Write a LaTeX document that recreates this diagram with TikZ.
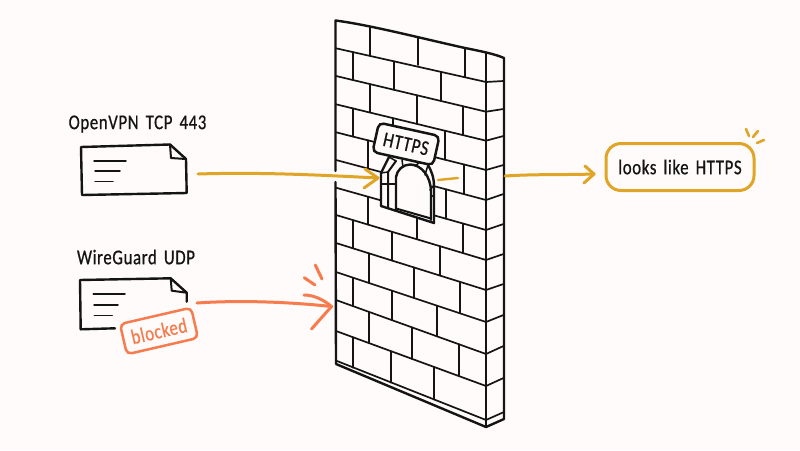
\documentclass[tikz,border=0pt]{standalone}
\usepackage{fontspec}
\setmainfont[FakeStretch=0.8,FakeBold=0.6,LetterSpace=3,WordSpace=1.6]{Carlito}
\definecolor{bgc}{HTML}{FEFBFA}
\definecolor{inkc}{HTML}{141414}
\definecolor{goldc}{HTML}{E0A526}
\definecolor{orangec}{HTML}{F77B4C}
\tikzset{
  outline/.style={draw=inkc,line width=2.4pt,line cap=round,line join=round},
  mortar/.style={draw=inkc,line width=1.7pt,line cap=round},
  thinline/.style={draw=inkc,line width=1.5pt,line cap=round,line join=round},
  goldline/.style={draw=goldc,line width=3pt,line cap=round,line join=round},
  orangeline/.style={draw=orangec,line width=3pt,line cap=round,line join=round},
  label/.style={text=inkc,font=\fontsize{21}{24}\selectfont,inner sep=0pt},
}
\newcommand{\brickv}[5]{\draw[mortar] (#1,{#2+(#3-#2)*(#1-336)/150}) -- (#1,{#4+(#5-#4)*(#1-336)/150});}
\begin{document}
\begin{tikzpicture}[x=1pt,y=-1pt]
\fill[bgc] (0,0) rectangle (800,450);
\useasboundingbox (0,0) rectangle (800,450);
% wall mortar: front lines and their returns on the side
\foreach \a/\b/\c in {48.3/82/81,76/111.7/109,104.3/140.7/136,132.3/170/165,160/200/194,187.7/230/224,215/260/254,243/290/284,272/322/315,300/354/346,331/386/378}{
  \draw[mortar] (336,\a) -- (486,\b) -- (503.5,\c);
}
\draw[mortar] (337,361) -- (486,420) -- (504,412);
% bricks
\draw[mortar] (370,26.7)--(370,55);
\draw[mortar] (418,38)--(418,65);
\draw[mortar] (465,48)--(465,76.7);
\foreach \x/\a/\b/\c/\d in {
 353/48.3/82/76/111.7, 394/48.3/82/76/111.7, 441/48.3/82/76/111.7,
 370/76/111.7/104.3/140.7, 417/76/111.7/104.3/140.7, 463/76/111.7/104.3/140.7,
 353/104.3/140.7/132.3/170, 393/104.3/140.7/132.3/170, 445/104.3/140.7/132.3/170,
 368/132.3/170/160/200, 464/132.3/170/160/200,
 446/160/200/187.7/230,
 368/187.7/230/215/260, 417/187.7/230/215/260, 463/187.7/230/215/260,
 353/215/260/243/290, 392/215/260/243/290, 440/215/260/243/290,
 369/243/290/272/322, 414/243/290/272/322, 460/243/290/272/322,
 353/272/322/300/354, 392/272/322/300/354, 437/272/322/300/354,
 369/300/354/331/386, 412/300/354/331/386, 459/300/354/331/386,
 353/331/386/361/420, 391/331/386/361/420, 434/331/386/361/420}{
  \brickv{\x}{\a}{\b}{\c}{\d}
}
% wall outline
\draw[outline] (336,364) -- (335.5,182) (335.5,171) -- (335.5,20.5) .. controls (370,25) and (420,38) .. (465,48) .. controls (480,51) and (495,54) .. (504,58) -- (504,419) -- (486,427) -- (336,364);
\draw[outline] (486,52.5) -- (486,427);
% window
\path[fill=bgc] (381,206) -- (381,173) -- (389,157) -- (410,160) -- (428,165) .. controls (431,170) and (434,177) .. (434,186) -- (434,223) -- cycle;
\draw[outline] (381,206) -- (381,173) -- (389,157);
\draw[outline] (428,165) .. controls (431,170) and (434,177) .. (434,186) -- (434,223) -- (381,206);
\draw[outline,line width=2pt] (388,208) -- (388,172) -- (396,161);
\draw[outline] (396,210) -- (396,177) .. controls (397,170) and (403,164.5) .. (410,164.5) .. controls (421,164.5) and (431,176) .. (431,192) -- (431,220);
\draw[outline,line width=2pt] (396,208.5) -- (431,218.5);
\draw[thinline] (389,157) -- (396,161) (381,173) -- (388,172);
\draw[thinline] (402,160) -- (403,167);
\draw[thinline] (420,162) -- (415,166);
\draw[thinline] (428,165) -- (425,175);
\draw[thinline] (434,185) -- (430,190);
\draw[thinline] (381,184) -- (396,184);
\draw[thinline] (431,197) -- (434,195);
% sign
\node[name=sign,draw=inkc,fill=bgc,line width=2.5pt,rounded corners=5pt,rotate=-12.5,minimum width=62pt,minimum height=30pt,inner sep=0pt,text=inkc,font=\fontsize{21}{24}\selectfont] at (406,144) {HTTPS};
% documents
\node[label,name=l1] at (137.5,124) {OpenVPN TCP 443};
\draw[outline] (81,147) -- (170,144.5) -- (186,159) -- (186.7,193) -- (82,195) -- cycle;
\draw[outline,line width=2pt] (170,144.5) -- (171,158) -- (186,159);
\draw[thinline] (94,161) -- (126,161) (95,171) -- (120,171) (95,181.7) -- (113,181.7);
\node[label,name=l2] at (136,257) {WireGuard UDP};
\draw[outline] (186.7,301.7) -- (186.7,292.7) -- (170.7,278.3) -- (80,280) -- (80.7,329.3) -- (115,328.3);
\draw[outline,line width=2pt] (170.7,278.3) -- (171.7,290.7) -- (186.7,292.7);
\draw[thinline] (93.3,294) -- (125,294) (94,305) -- (118,305) (94.3,315.7) -- (112.3,315.7);
% blocked stamp
\node[name=stamp,draw=orangec,fill=bgc,line width=2.5pt,rounded corners=5pt,rotate=13,minimum width=73pt,minimum height=31pt,inner sep=0pt,text=orangec,font=\fontsize{21}{24}\selectfont] at (159,331) {blocked};
% result box
\node[name=result,draw=goldc,line width=3pt,rounded corners=15pt,minimum width=148pt,minimum height=47pt,inner sep=0pt,text=inkc,font=\fontsize{21}{24}\selectfont] at (680,167) {looks like HTTPS};
\draw[goldline,line width=2.6pt] (746,129) -- (749,136) (758,131) -- (753,137) (764,140) -- (757,143);
% connectors
\coordinate (g1) at (198,174);
\coordinate (g2) at (378,178);
\coordinate (g3) at (438,180);
\coordinate (g4) at (458,178);
\coordinate (g5) at (505,176);
\coordinate (g6) at (594,174);
\coordinate (o1) at (197,303);
\coordinate (o2) at (331.5,306.5);
\draw[goldline] (g1) .. controls (260,172) and (320,175) .. (g2);
\draw[goldline] (365,169) -- (g2) -- (364,188);
\draw[goldline,line width=2.4pt] (g3) -- (g4);
\draw[goldline] (g5) .. controls (535,174) and (565,175) .. (g6);
\draw[goldline] (585,166) -- (g6) -- (584,183);
\draw[orangeline] (o1) .. controls (240,300) and (290,302) .. (o2);
\draw[orangeline] (304,295) .. controls (314,295) and (324,300) .. (o2) -- (311.5,329);
\draw[orangeline] (304.3,277.7) -- (315,285) (315.3,265) -- (322,279);
\end{tikzpicture}
\end{document}
